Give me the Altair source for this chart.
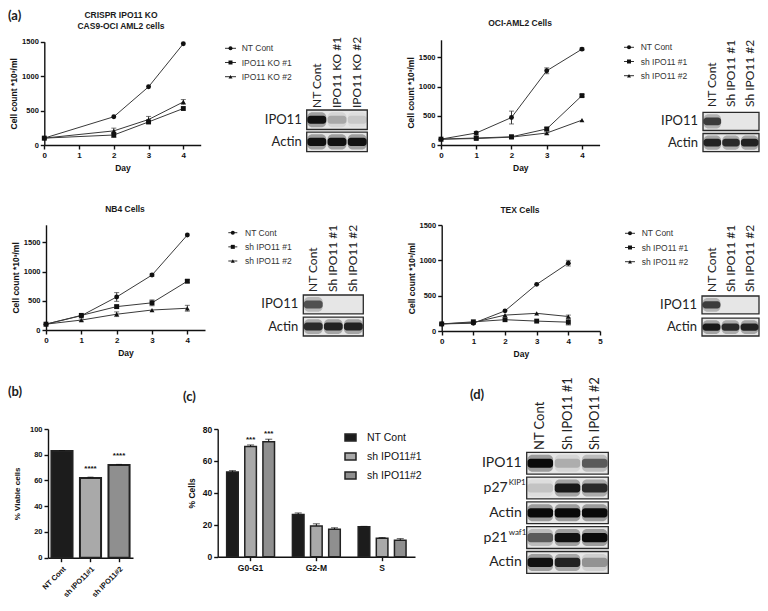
import altair as alt
import pandas as pd

W, H = 752, 595
M = 8  # page margin; reference coordinates are page pixels


def X(p):
    return p - M


def Y(p):
    return p - M


AX_FONT = "Liberation Sans"
BL_FONT = "Lato"
INK = "#1b1b1b"

KEYS = ["s0", "s1", "s2"]
SHAPE_SCALE = alt.Scale(domain=KEYS, range=["circle", "square", "triangle-up"])

# ---------------- (a) growth curves ----------------
ko_names = ["NT Cont", "IPO11 KO #1", "IPO11 KO #2"]
sh_names = ["NT Cont", "sh IPO11 #1", "sh IPO11 #2"]

crispr_days = [0, 2, 3, 4]
crispr_nt = [100, 410, 845, 1470]
crispr_ko1 = [100, 145, 335, 530]
crispr_ko2 = [100, 205, 370, 625]
crispr_nt_err = [0, 15, 15, 15]
crispr_ko1_err = [0, 35, 25, 15]
crispr_ko2_err = [0, 40, 45, 35]

oci_days = [0, 1, 2, 3, 4]
oci_nt = [100, 205, 470, 1270, 1640]
oci_sh1 = [100, 120, 140, 275, 845]
oci_sh2 = [100, 110, 135, 205, 425]
oci_nt_err = [0, 25, 110, 50, 20]
oci_sh1_err = [0, 30, 30, 25, 20]
oci_sh2_err = [0, 10, 25, 20, 10]

nb4_days = [0, 1, 2, 3, 4]
nb4_nt = [100, 245, 565, 940, 1625]
nb4_sh1 = [100, 250, 400, 465, 835]
nb4_sh2 = [100, 170, 270, 342, 372]
nb4_nt_err = [0, 15, 75, 20, 15]
nb4_sh1_err = [0, 15, 25, 50, 25]
nb4_sh2_err = [0, 20, 40, 15, 50]

tex_days = [0, 1, 2, 3, 4]
tex_nt = [100, 110, 285, 660, 960]
tex_sh1 = [100, 130, 160, 140, 125]
tex_sh2 = [100, 120, 225, 250, 205]
tex_nt_err = [0, 10, 15, 15, 40]
tex_sh1_err = [0, 10, 15, 15, 40]
tex_sh2_err = [0, 10, 15, 10, 20]

# ---------------- western blots (band intensity 0-1) ----------------
ko_lanes = ["NT Cont", "IPO11 KO #1", "IPO11 KO #2"]
sh_lanes = ["NT Cont", "Sh IPO11 #1", "Sh IPO11 #2"]
blot_rows = ["IPO11", "Actin"]
blot_sups = ["", ""]
crispr_blot = [[0.95, 0.22, 0.1], [0.95, 0.95, 0.95]]
oci_blot = [[0.7, 0.0, 0.0], [0.85, 0.8, 0.85]]
nb4_blot = [[0.6, 0.0, 0.0], [0.8, 0.85, 0.85]]
tex_blot = [[0.7, 0.0, 0.0], [0.9, 0.8, 0.85]]
d_rows = ["IPO11", "p27", "Actin", "p21", "Actin"]
d_sups = ["", "KIP1", "", "waf1", ""]
d_blot = [[1.0, 0.2, 0.55], [0.12, 0.9, 0.8], [1.0, 1.0, 1.0],
          [0.55, 0.95, 1.0], [0.95, 0.85, 0.3]]

# ---------------- (b) viability ----------------
viab_names = ["NT Cont", "sh IPO11#1", "sh IPO11#2"]
viab_vals = [83, 62, 72]
viab_errs = [0.3, 0.6, 0.5]
viab_sig = ["", "****", "****"]

# ---------------- (c) cell cycle ----------------
phases = ["G0-G1", "G2-M", "S"]
cc_nt = [53, 26.5, 18.7]
cc_sh1 = [69, 19.3, 11.5]
cc_sh2 = [72, 17.2, 10.3]
cc_nt_err = [0.9, 0.9, 0.3]
cc_sh1_err = [1.0, 1.3, 0.5]
cc_sh2_err = [1.6, 0.9, 1.0]
cc_sig_sh1 = ["***", "", ""]
cc_sig_sh2 = ["***", "", ""]

BAR_COLORS = ["#1c1c1c", "#a9a9a9", "#8f8f8f"]
COLOR_SCALE = alt.Scale(domain=viab_names, range=BAR_COLORS)


def note(text, x, y, size, weight="bold", font=AX_FONT, align="center",
         baseline="middle", color=INK):
    return alt.Chart(pd.DataFrame({"t": [text]})).mark_text(
        align=align, baseline=baseline, font=font, fontSize=size,
        fontWeight=weight, color=color
    ).encode(x=alt.value(x), y=alt.value(y), text="t:N")


def growth(days, vals, errs, xdom, xr, ydom, yr, xticks, yticks, xaxis_y, yaxis_x):
    rows = []
    for k in range(3):
        for d, v, e in zip(days, vals[k], errs[k]):
            rows.append({"day": d, "count": v, "lo": v - e, "hi": v + e,
                         "err": e, "key": KEYS[k]})
    df = pd.DataFrame(rows)
    xs = alt.Scale(domain=xdom, range=[X(xr[0]), X(xr[1])], zero=False, nice=False)
    ys = alt.Scale(domain=ydom, range=[Y(yr[0]), Y(yr[1])], zero=False, nice=False)
    xax = alt.Axis(orient="bottom", offset=Y(xaxis_y) - H, values=xticks,
                   title="Day", labelFontSize=8, titleFontSize=8.5,
                   titlePadding=4, tickSize=4, labelPadding=2)
    yax = alt.Axis(orient="left", offset=-X(yaxis_x), values=yticks, format="d",
                   title="Cell count *10³/ml", labelFontSize=7.5, titleFontSize=8.5,
                   titlePadding=3, tickSize=4, labelPadding=2)
    base = alt.Chart(df)
    line = base.mark_line(color="#3a3a3a", strokeWidth=1).encode(
        x=alt.X("day:Q", scale=xs, axis=xax),
        y=alt.Y("count:Q", scale=ys, axis=yax),
        detail="key:N",
    )
    err = base.transform_filter("datum.err >= 20").mark_errorbar(
        ticks=True, color="#3a3a3a"
    ).encode(
        x=alt.X("day:Q", scale=xs, axis=None),
        y=alt.Y("lo:Q", scale=ys, axis=None),
        y2="hi:Q",
    )
    pts = base.mark_point(filled=True, size=24, color="#111", opacity=1).encode(
        x=alt.X("day:Q", scale=xs, axis=None),
        y=alt.Y("count:Q", scale=ys, axis=None),
        shape=alt.Shape("key:N", scale=SHAPE_SCALE, legend=None),
    )
    return [line, err, pts]


def line_legend(names, xl0, xl1, xt, y0, y1):
    df = pd.DataFrame({"name": names, "key": KEYS})
    ys = alt.Scale(type="point", domain=names, range=[Y(y0), Y(y1)], padding=0)
    y = alt.Y("name:N", scale=ys, axis=None)
    base = alt.Chart(df)
    rule = base.mark_rule(color="#333", strokeWidth=1).encode(
        y=y, x=alt.value(X(xl0)), x2=alt.value(X(xl1)))
    pt = base.mark_point(filled=True, size=16, color="#111", opacity=1).encode(
        y=y, x=alt.value(X((xl0 + xl1) / 2)),
        shape=alt.Shape("key:N", scale=SHAPE_SCALE, legend=None))
    txt = base.mark_text(align="left", baseline="middle", font=AX_FONT,
                         fontSize=8.5, color="#333").encode(
        y=y, x=alt.value(X(xt)), text="name:N")
    return [rule, pt, txt]


def blot(lanes, rows, sups, inten, x0, x1, y0, y1, pad, col_bottom, row_fs, col_fs):
    n = len(lanes)
    ids = [f"r{i}" for i in range(len(rows))]
    xs = alt.Scale(domain=[0, n], range=[X(x0), X(x1)], zero=False, nice=False)
    ys = alt.Scale(type="band", domain=ids, range=[Y(y0), Y(y1)],
                   paddingInner=pad, paddingOuter=0)
    y = alt.Y("row:N", scale=ys, axis=None)
    box_df = pd.DataFrame({"row": ids, "lo": [0] * len(ids), "hi": [n] * len(ids),
                           "label": rows, "sup": sups})
    band_rows = []
    for i, r in enumerate(ids):
        for j in range(n):
            band_rows.append({"row": r, "lo": j + 0.03, "hi": j + 0.97,
                              "a": inten[i][j]})
    bdf = pd.DataFrame(band_rows)
    box = alt.Chart(box_df).mark_bar(color="#e6e6e6", stroke="#2a2a2a",
                                     strokeWidth=1.3).encode(
        x=alt.X("lo:Q", scale=xs, axis=None), x2="hi:Q", y=y)
    halo = alt.Chart(bdf).transform_calculate(ah="datum.a * 0.35").mark_bar(
        color="#111", height={"band": 0.78}, cornerRadius=5).encode(
        x=alt.X("lo:Q", scale=xs, axis=None), x2="hi:Q", y=y,
        opacity=alt.Opacity("ah:Q", scale=None))
    core = alt.Chart(bdf).mark_bar(color="#0a0a0a", height={"band": 0.42},
                                   cornerRadius=3).encode(
        x=alt.X("lo:Q", scale=xs, axis=None), x2="hi:Q", y=y,
        opacity=alt.Opacity("a:Q", scale=None))
    lab = alt.Chart(box_df).transform_filter("datum.sup == ''").mark_text(
        align="right", baseline="middle", font=BL_FONT, fontSize=row_fs,
        color="#222").encode(y=y, x=alt.value(X(x0) - 5), text="label:N")
    lab2 = alt.Chart(box_df).transform_filter("datum.sup != ''").mark_text(
        align="right", baseline="middle", font=BL_FONT, fontSize=row_fs,
        color="#222").encode(y=y, x=alt.value(X(x0) - 19), text="label:N")
    sup = alt.Chart(box_df).transform_filter("datum.sup != ''").mark_text(
        align="left", baseline="middle", dy=-5, font=BL_FONT, fontSize=8,
        color="#222").encode(y=y, x=alt.value(X(x0) - 18), text="sup:N")
    col_df = pd.DataFrame({"lane": lanes, "c": [j + 0.5 for j in range(n)]})
    col = alt.Chart(col_df).mark_text(angle=270, align="left", baseline="middle",
                                      font=BL_FONT, fontSize=col_fs,
                                      color="#222").encode(
        x=alt.X("c:Q", scale=xs, axis=None), y=alt.value(Y(col_bottom)),
        text="lane:N")
    return [box, halo, core, lab, lab2, sup, col]


layers = []

# panel letters and titles
layers += [
    note("(a)", 0, 2, 13, font=BL_FONT, align="left", baseline="top"),
    note("(b)", 0, Y(392), 13, font=BL_FONT, align="left"),
    note("(c)", X(183), Y(397), 13, font=BL_FONT, align="left"),
    note("(d)", X(470), Y(395), 13, font=BL_FONT, align="left"),
    note("CRISPR IPO11 KO", X(121), Y(15), 8.5),
    note("CAS9-OCI AML2 cells", X(121), Y(25.5), 8.5),
    note("OCI-AML2 Cells", X(520), Y(23), 8.5),
    note("NB4 Cells", X(125), Y(209), 8.5),
    note("TEX Cells", X(520), Y(210), 8.5),
]

# growth curves
layers += growth(crispr_days, [crispr_nt, crispr_ko1, crispr_ko2],
                 [crispr_nt_err, crispr_ko1_err, crispr_ko2_err],
                 [0, 4.5], [44.3, 200.7], [0, 1500], [145, 41.7],
                 [0, 1, 2, 3, 4], [0, 500, 1000, 1500], 145, 44.3)
layers += growth(oci_days, [oci_nt, oci_sh1, oci_sh2],
                 [oci_nt_err, oci_sh1_err, oci_sh2_err],
                 [0, 4.5], [441, 599.6], [0, 1800], [145, 39.8],
                 [0, 1, 2, 3, 4], [0, 500, 1000, 1500], 145, 441)
layers += growth(nb4_days, [nb4_nt, nb4_sh1, nb4_sh2],
                 [nb4_nt_err, nb4_sh1_err, nb4_sh2_err],
                 [0, 4.5], [46, 205], [0, 1800], [330, 224.8],
                 [0, 1, 2, 3, 4], [0, 500, 1000, 1500], 330, 46)
layers += growth(tex_days, [tex_nt, tex_sh1, tex_sh2],
                 [tex_nt_err, tex_sh1_err, tex_sh2_err],
                 [0, 5], [441.7, 600], [0, 1500], [331, 225],
                 [0, 1, 2, 3, 4, 5], [0, 500, 1000, 1500], 331, 441.7)

# legends for growth curves
layers += line_legend(ko_names, 225, 236, 241.7, 48.3, 76.7)
layers += line_legend(sh_names, 624, 634, 640.7, 47.3, 75.7)
layers += line_legend(sh_names, 228.3, 237.3, 245, 232.7, 261)
layers += line_legend(sh_names, 625, 635, 641.7, 233.3, 261.7)

# blots
layers += blot(ko_lanes, blot_rows, blot_sups, crispr_blot,
               306.7, 367.3, 110, 151.7, 0.12, 108, 13, 12)
layers += blot(sh_lanes, blot_rows, blot_sups, oci_blot,
               703, 759, 112.3, 151.7, 0.14, 107, 13, 12)
layers += blot(sh_lanes, blot_rows, blot_sups, nb4_blot,
               303.3, 363.3, 295, 336, 0.14, 292, 13, 12)
layers += blot(sh_lanes, blot_rows, blot_sups, tex_blot,
               702, 759, 296, 336, 0.2, 292, 13, 12)
layers += blot(sh_lanes, d_rows, d_sups, d_blot,
               526.7, 608.3, 452.3, 573.3, 0.12, 450, 14, 13)

# (b) viability bars
vb = pd.DataFrame({"series": viab_names, "val": viab_vals,
                   "hi": [v + e for v, e in zip(viab_vals, viab_errs)],
                   "sig": viab_sig})
bxs = alt.Scale(type="band", domain=viab_names, range=[X(48), X(133)],
                paddingInner=0.26, paddingOuter=0.12)
bys = alt.Scale(domain=[0, 100], range=[Y(557.7), Y(429)], zero=False, nice=False)
LEG = alt.Legend(orient="none", legendX=X(344), legendY=Y(431), title=None,
                 symbolType="M-1,-0.62H1V0.62H-1Z", symbolSize=121,
                 symbolStrokeColor="#222", symbolStrokeWidth=1.5,
                 labelFont=AX_FONT, labelFontSize=10.5, labelColor="#111",
                 labelOffset=10, rowPadding=6, padding=0)
b_bars = alt.Chart(vb).mark_bar(stroke="#222", strokeWidth=2).encode(
    x=alt.X("series:N", scale=bxs, sort=viab_names,
            axis=alt.Axis(orient="bottom", offset=Y(557.7) - H, title=None,
                          labelAngle=-45, labelFontSize=7.5, tickSize=4,
                          labelPadding=3)),
    y=alt.Y("val:Q", scale=bys,
            axis=alt.Axis(orient="left", offset=-X(48), values=[0, 20, 40, 60, 80, 100],
                          title="% Viable cells", labelFontSize=7.5, titleFontSize=8,
                          tickSize=4, titlePadding=8)),
    color=alt.Color("series:N", scale=COLOR_SCALE, legend=LEG),
)
b_err = alt.Chart(vb).mark_rule(color="#111", strokeWidth=1).encode(
    x=alt.X("series:N", scale=bxs, axis=None), y=alt.Y("val:Q", scale=bys, axis=None),
    y2="hi:Q")
b_cap = alt.Chart(vb).mark_tick(color="#111", size=6, thickness=1).encode(
    x=alt.X("series:N", scale=bxs, axis=None), y=alt.Y("hi:Q", scale=bys, axis=None))
b_sig = alt.Chart(vb).mark_text(baseline="bottom", dy=-4, font=AX_FONT, fontSize=8,
                                fontWeight="bold", color="#111").encode(
    x=alt.X("series:N", scale=bxs, axis=None), y=alt.Y("hi:Q", scale=bys, axis=None),
    text="sig:N")
layers += [b_bars, b_err, b_cap, b_sig]

# (c) cell-cycle bars
crow = []
for s, vals, errs, sig in [(viab_names[0], cc_nt, cc_nt_err, ["", "", ""]),
                           (viab_names[1], cc_sh1, cc_sh1_err, cc_sig_sh1),
                           (viab_names[2], cc_sh2, cc_sh2_err, cc_sig_sh2)]:
    for p, v, e, g in zip(phases, vals, errs, sig):
        crow.append({"phase": p, "series": s, "val": v, "hi": v + e, "sig": g})
cdf = pd.DataFrame(crow)
cxs = alt.Scale(type="band", domain=phases, range=[X(217.7), X(415)],
                paddingInner=0.25, paddingOuter=0.125)
cys = alt.Scale(domain=[0, 80], range=[Y(556.7), Y(429)], zero=False, nice=False)
xo = alt.XOffset("series:N", sort=viab_names,
                 scale=alt.Scale(domain=viab_names, paddingInner=0.36, paddingOuter=0.04))
c_bars = alt.Chart(cdf).mark_bar(stroke="#222", strokeWidth=1.5).encode(
    x=alt.X("phase:N", scale=cxs, sort=phases,
            axis=alt.Axis(orient="bottom", offset=Y(556.7) - H, title=None,
                          labelAngle=0, labelFontSize=8.5, tickSize=4, labelPadding=3)),
    xOffset=xo,
    y=alt.Y("val:Q", scale=cys,
            axis=alt.Axis(orient="left", offset=-X(217.7), values=[0, 20, 40, 60, 80],
                          title="% Cells", labelFontSize=8.5, titleFontSize=8.5,
                          tickSize=4, titlePadding=6)),
    color=alt.Color("series:N", scale=COLOR_SCALE, legend=LEG),
)
c_err = alt.Chart(cdf).mark_rule(color="#111", strokeWidth=1).encode(
    x=alt.X("phase:N", scale=cxs, axis=None), xOffset=xo,
    y=alt.Y("val:Q", scale=cys, axis=None), y2="hi:Q")
c_cap = alt.Chart(cdf).mark_tick(color="#111", size=7, thickness=1).encode(
    x=alt.X("phase:N", scale=cxs, axis=None), xOffset=xo,
    y=alt.Y("hi:Q", scale=cys, axis=None))
c_sig = alt.Chart(cdf).mark_text(baseline="bottom", dy=-1, font=AX_FONT, fontSize=8,
                                 fontWeight="bold", color="#111").encode(
    x=alt.X("phase:N", scale=cxs, axis=None), xOffset=xo,
    y=alt.Y("hi:Q", scale=cys, axis=None), text="sig:N")
layers += [c_bars, c_err, c_cap, c_sig]

chart = alt.layer(*layers).resolve_scale(
    x="independent", y="independent"
).properties(
    width=W, height=H, padding=0,
    autosize=alt.AutoSizeParams(type="none"),
).configure_view(stroke=None).configure_axis(
    domainColor="#111", domainWidth=1.4, tickColor="#111", tickWidth=1.4,
    labelFont=AX_FONT, labelFontWeight="bold", labelColor="#111",
    titleFont=AX_FONT, titleFontWeight="bold", titleColor="#111",
    grid=False, labelOverlap=False, labelFlush=False,
)

chart.save("out.html", embed_options={"renderer": "svg", "actions": False})
